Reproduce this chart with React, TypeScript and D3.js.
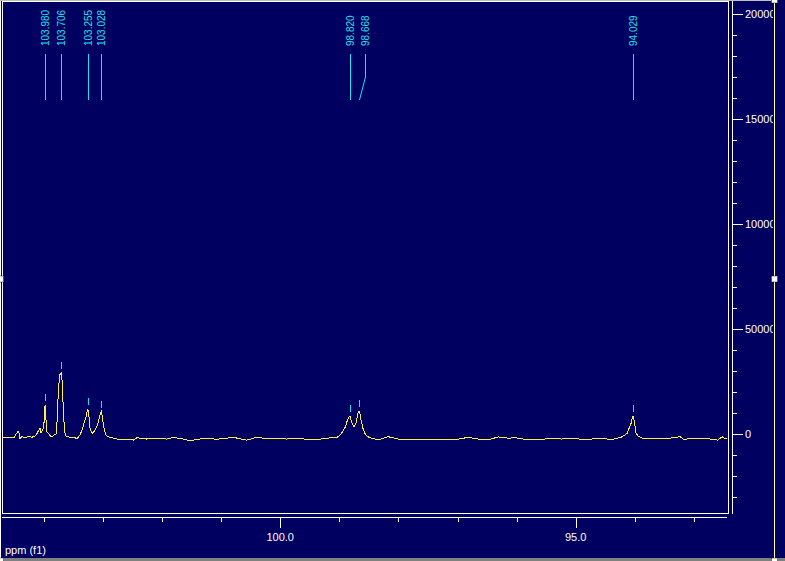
import React, { FC, useMemo } from 'react';
import * as d3 from 'd3';

// Canvas size and frame geometry
const W = 785;
const H = 561;
const FRAME = { left: 2, top: 1, right: 728, bottom: 513 };
const AXIS_X = 732; // vertical intensity axis
const AXIS_Y = 517; // horizontal ppm axis
const CURSOR_X = 774; // yellow cursor line on the right

const BG = '#000060';
const TRACE = '#fff040';
const CYAN = '#20e0f0';

// Spectrum trace: [ppm, intensity]
const trace: [number, number][] = [
  [104.708, -1600], [104.607, -1500], [104.505, -1700], [104.454, 600], [104.437, 1100],
  [104.42, 500], [104.403, -2400], [104.369, -1000], [104.335, -1700], [104.268, -1300],
  [104.2, -1500], [104.149, -1000], [104.115, 300], [104.082, 2000], [104.065, 2700],
  [104.048, 600], [104.014, 2500], [103.997, 5500], [103.98, 13600], [103.963, 6500],
  [103.946, 900], [103.913, -100], [103.879, -1300], [103.845, -900], [103.811, -200],
  [103.794, 0], [103.777, 5900], [103.76, 17000], [103.735, 28000], [103.706, 29000],
  [103.693, 26000], [103.681, 18600], [103.659, 5900], [103.642, 300], [103.617, -1300],
  [103.557, -1500], [103.49, -1600], [103.439, -2200], [103.388, -500], [103.354, 1900],
  [103.32, 5100], [103.286, 8200], [103.269, 10600], [103.255, 11900], [103.235, 8200],
  [103.218, 2700], [103.184, 300], [103.151, 1100], [103.117, 2700], [103.083, 5100],
  [103.049, 9000], [103.028, 10600], [103.015, 9000], [102.982, 2700], [102.948, -500],
  [102.914, -1300],
  [102.767, -2400], [102.598, -2400], [102.486, -2900], [102.428, -1800], [102.259, -2400],
  [102.09, -2000], [101.921, -2400], [101.809, -1600], [101.64, -2400], [101.526, -3200],
  [101.357, -2400], [101.244, -2000], [101.075, -2500], [100.905, -2000], [100.794, -1600],
  [100.567, -2900], [100.398, -1600], [100.228, -2200], [100.059, -2000], [99.89, -2400],
  [99.721, -2000], [99.552, -2500], [99.382, -2700], [99.213, -2000], [99.044, -1600],
  [98.997, -900], [98.963, 300], [98.93, 1900], [98.896, 3500], [98.862, 6700],
  [98.82, 8700], [98.803, 6700], [98.786, 5100], [98.752, 3500], [98.718, 5100],
  [98.684, 9800], [98.668, 11000], [98.651, 9800], [98.634, 6700], [98.6, 2700],
  [98.566, 300], [98.532, -900], [98.499, -1600], [98.431, -2200],
  [98.34, -2700], [98.171, -1300], [98.001, -2400], [97.832, -2500], [97.663, -2700],
  [97.494, -2400], [97.324, -2400], [97.155, -2700], [96.986, -2400], [96.817, -1600],
  [96.647, -2400], [96.478, -2700], [96.309, -1400], [96.14, -2000], [96.026, -1800],
  [95.857, -2500], [95.688, -2700], [95.519, -2400], [95.405, -2000], [95.236, -2400],
  [95.067, -2000], [94.898, -2500], [94.728, -2400], [94.559, -2000], [94.39, -2700],
  [94.221, -1400],
  [94.165, -500], [94.131, 300], [94.097, 2700], [94.063, 5100], [94.046, 7500],
  [94.029, 8600], [94.012, 6700], [93.995, 3500], [93.978, 300], [93.944, -900],
  [93.877, -2000], [93.742, -2000], [93.573, -2400], [93.404, -2000], [93.234, -1300],
  [93.166, -2700], [93.065, -2000], [92.896, -2000], [92.727, -2400], [92.592, -2900],
  [92.524, -1300], [92.473, -2400], [92.439, -2200],
];

// Picked peaks
const peakPpm = [103.98, 103.706, 103.255, 103.028, 98.82, 98.668, 94.029];
const peakLabels = ['103.980', '103.706', '103.255', '103.028', '98.820', '98.668', '94.029'];

// Axis ticks
const xMajorTicks = [100, 95];
const xMajorLabels = ['100.0', '95.0'];
const xMinorTicks = [104, 103, 102, 101, 99, 98, 97, 96, 94, 93];
const yMajorTicks = [0, 50000, 100000, 150000, 200000];
const yMajorLabels = ['0', '50000', '100000', '150000', '200000'];
const yMinorTicks = [-30000, -20000, -10000, 10000, 20000, 30000, 40000, 60000, 70000, 80000, 90000,
  110000, 120000, 130000, 140000, 160000, 170000, 180000, 190000];

const FONT = '"Liberation Sans", Arial, sans-serif';

const px = (v: number) => Math.round(v) + 0.5;

const Handle: FC<{ x: number; y: number }> = ({ x, y }) => (
  <rect x={x - 3} y={y - 3} width={6} height={6} fill="#ffffff" stroke="#202020" strokeWidth={0.5} />
);

const App: FC = () => {
  const xScale = useMemo(() => d3.scaleLinear().domain([104.708, 92.44]).range([FRAME.left, 727]), []);
  const yScale = useMemo(() => d3.scaleLinear().domain([0, 200000]).range([434, 14]), []);

  const linePath = useMemo(
    () => d3.line<[number, number]>().x(d => xScale(d[0])).y(d => yScale(d[1]))(trace) || '',
    [xScale, yScale]
  );

  // label positions: push apart labels that would overlap
  const peaks = useMemo(() => {
    let prev = -Infinity;
    return peakPpm.map((p, i) => {
      const x = px(xScale(p));
      let lx = x;
      if (lx - prev < 12) lx = prev + 15;
      prev = lx;
      const near = trace.filter(d => Math.abs(d[0] - p) < 0.03);
      const top = d3.max(near, d => d[1]) ?? 0;
      return { x, lx, label: peakLabels[i], topY: Math.round(yScale(top)) };
    });
  }, [xScale, yScale]);

  return (
    <svg width={W} height={H} style={{ position: 'absolute', left: 0, top: 0, display: 'block' }}>
      <defs>
        <clipPath id="plotClip">
          <rect x={FRAME.left} y={FRAME.top} width={FRAME.right - FRAME.left} height={FRAME.bottom - FRAME.top} />
        </clipPath>
        <clipPath id="labelClip">
          <rect x={AXIS_X} y={0} width={CURSOR_X - AXIS_X - 1} height={H} />
        </clipPath>
      </defs>

      <rect x={0} y={0} width={W} height={H} fill={BG} />

      {/* spectrum */}
      <g clipPath="url(#plotClip)">
        <path d={linePath} fill="none" stroke={TRACE} strokeWidth={1} shapeRendering="crispEdges" />
      </g>

      {/* peak labels, connectors and markers */}
      <g>
        {peaks.map(pk => (
          <g key={pk.label}>
            <text
              transform={`translate(${pk.lx},46) rotate(-90)`}
              dy="0.35em"
              textAnchor="start"
              fill={CYAN}
              fontFamily={FONT}
              fontSize={10}
            >
              {pk.label}
            </text>
            <path
              d={pk.lx === pk.x ? `M${pk.x},54V100` : `M${pk.lx},54V77L${pk.x},100`}
              fill="none"
              stroke={CYAN}
              strokeWidth={1}
            />
            <line x1={pk.x} x2={pk.x} y1={pk.topY - 11} y2={pk.topY - 4} stroke={CYAN} strokeWidth={1} />
          </g>
        ))}
      </g>

      {/* plot frame */}
      <rect
        x={FRAME.left + 0.5}
        y={FRAME.top + 0.5}
        width={FRAME.right - FRAME.left}
        height={FRAME.bottom - FRAME.top}
        fill="none"
        stroke="#ffffff"
        strokeWidth={1}
      />

      {/* intensity axis */}
      <g stroke="#ffffff" strokeWidth={1} shapeRendering="crispEdges">
        <line x1={AXIS_X + 0.5} x2={AXIS_X + 0.5} y1={0} y2={514} />
        {yMajorTicks.map(v => (
          <line key={`M${v}`} x1={AXIS_X} x2={AXIS_X + 11} y1={px(yScale(v))} y2={px(yScale(v))} />
        ))}
        {yMinorTicks.map(v => (
          <line key={`m${v}`} x1={AXIS_X} x2={AXIS_X + 5} y1={px(yScale(v))} y2={px(yScale(v))} />
        ))}
      </g>
      <g clipPath="url(#labelClip)">
        {yMajorTicks.map((v, i) => (
          <text key={v} x={AXIS_X + 13} y={yScale(v)} dy="0.35em" fill="#ffffff" fontFamily={FONT} fontSize={11}>
            {yMajorLabels[i]}
          </text>
        ))}
      </g>

      {/* ppm axis */}
      <g stroke="#ffffff" strokeWidth={1} shapeRendering="crispEdges">
        <line x1={FRAME.left} x2={727} y1={AXIS_Y + 0.5} y2={AXIS_Y + 0.5} />
        {xMajorTicks.map(v => (
          <line key={`M${v}`} x1={px(xScale(v))} x2={px(xScale(v))} y1={AXIS_Y} y2={AXIS_Y + 11} />
        ))}
        {xMinorTicks.map(v => (
          <line key={`m${v}`} x1={px(xScale(v))} x2={px(xScale(v))} y1={AXIS_Y} y2={AXIS_Y + 5} />
        ))}
      </g>
      {xMajorTicks.map((v, i) => (
        <text key={v} x={xScale(v)} y={537} dy="0.35em" textAnchor="middle" fill="#ffffff" fontFamily={FONT} fontSize={11}>
          {xMajorLabels[i]}
        </text>
      ))}
      <text x={5} y={550} dy="0.35em" fill="#ffffff" fontFamily={FONT} fontSize={11}>
        ppm (f1)
      </text>

      {/* window chrome: left edge, bottom bar, cursor, handles */}
      <line x1={0.5} x2={0.5} y1={0} y2={H} stroke="#ffffff" strokeWidth={1} />
      <line x1={0} x2={CURSOR_X} y1={0.5} y2={0.5} stroke="#c0c0c0" strokeWidth={1} />
      <rect x={0} y={H - 3} width={W} height={3} fill="#808080" />
      <line x1={CURSOR_X + 0.5} x2={CURSOR_X + 0.5} y1={0} y2={H} stroke="#ffffa0" strokeWidth={1} />
      <Handle x={CURSOR_X + 0.5} y={0} />
      <Handle x={CURSOR_X + 0.5} y={279} />
      <Handle x={CURSOR_X + 0.5} y={H} />
      <Handle x={0.5} y={279} />
      <Handle x={0.5} y={H} />
    </svg>
  );
};

export default App;
